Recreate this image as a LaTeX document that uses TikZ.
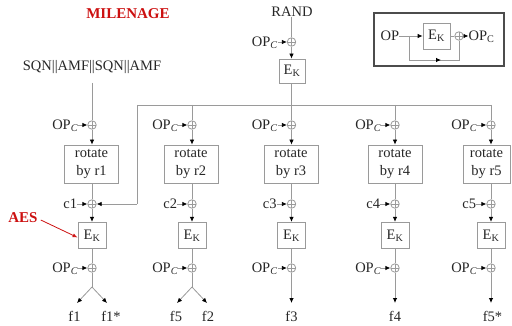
\documentclass[tikz,border=0pt]{standalone}
\usepackage{fontspec}
\setmainfont{Liberation Serif}
\usetikzlibrary{arrows.meta}
\definecolor{ln}{HTML}{9A9A9A}
\definecolor{redt}{HTML}{CC1010}
\definecolor{txt}{HTML}{262626}
\newcommand{\opc}{OP\textsubscript{\textit{C}}}
\newcommand{\opcup}{OP\textsubscript{C}}
\newcommand{\ek}{E\textsubscript{K}}
\tikzset{
  every node/.style={font=\fontsize{14.5}{16}\selectfont, text=txt},
  xor/.style={circle, draw=ln, line width=0.8pt, minimum size=8.5pt, inner sep=0pt,
    path picture={\draw[ln, line width=0.8pt] (path picture bounding box.north) -- (path picture bounding box.south)
      (path picture bounding box.west) -- (path picture bounding box.east);}},
  rotbox/.style={draw=ln, line width=0.8pt, minimum width=54pt, minimum height=38pt, inner sep=0pt,
    align=center, font=\fontsize{14.5}{18}\selectfont},
  ekbox/.style={draw=ln, line width=0.8pt, minimum width=28pt, minimum height=26.5pt, inner sep=0pt},
  wire/.style={draw=ln, line width=0.8pt},
  arr/.style={wire, -{Latex[length=5pt,width=4.5pt,black]}},
  lbl/.style={inner sep=0pt},
  title/.style={inner sep=0pt, font=\fontsize{15}{16}\selectfont\bfseries, text=redt},
}
\begin{document}
\begin{tikzpicture}[x=1pt,y=-1pt]
\useasboundingbox (0,0) rectangle (512,326);

% titles
\node[title] (mil) at (128,14) {MILENAGE};
\node[title] (aes) at (23,218) {AES};

% top: RAND branch
\node[lbl] (rand) at (292,12) {RAND};
\node[xor] (tx) at (291.5,42) {};
\node[lbl, anchor=base east] (tlo) at (278,46.7) {\opc};
\node[ekbox, minimum width=26pt, minimum height=24pt] (tek) at (292,71) {\ek};
\draw[wire] (rand.south -| tx) -- (tx.north);
\draw[arr] (tlo.east |- tx) -- (tx.west);
\draw[arr] (tx.south) -- (tek.north -| tx);
\coordinate (busc) at (291.5,105);
\draw[wire] (tek.south -| tx) -- (busc);

% SQN input
\node[lbl] (sqn) at (92,67) {SQN||AMF||SQN||AMF};
\coordinate (s1) at (92,83);

% bus
\coordinate (bl) at (137,105);
\coordinate (br) at (491,105);
\draw[wire] (bl) -- (br);

% columns
\foreach \i/\x/\outa/\outb in {1/92/f1/f1*,2/192/f5/f2,3/291.5/f3/,4/395/f4/,5/491/f5*/}{
  \node[xor] (xa\i) at (\x,125) {};
  \node[lbl, anchor=base east] (oa\i) at ([xshift=-9pt,yshift=-4.7pt]xa\i.west) {\opc};
  \draw[arr] (oa\i.east |- xa\i) -- (xa\i.west);
  \node[xor] (xb\i) at (\x,204) {};
  \node[lbl, anchor=base east] (cb\i) at ([xshift=-10pt,yshift=-4.7pt]xb\i.west) {c\i};
  \draw[arr] (cb\i.east |- xb\i) -- (xb\i.west);
  \node[ekbox] (ek\i) at (\x,235.5) {\ek};
  \node[xor] (xc\i) at (\x,268) {};
  \node[lbl, anchor=base east] (oc\i) at ([xshift=-9pt,yshift=-4.7pt]xc\i.west) {\opc};
  \draw[arr] (oc\i.east |- xc\i) -- (xc\i.west);
  \draw[arr] (xb\i.south) -- (ek\i.north);
  \draw[wire] (ek\i.south) -- (xc\i.north);
}
% rotate boxes
\node[rotbox] (rb1) at (91.5,164) {rotate\\by r1};
\node[rotbox] (rb2) at (191,164) {rotate\\by r2};
\node[rotbox] (rb3) at (291,164) {rotate\\by r3};
\node[rotbox] (rb4) at (395,164) {rotate\\by r4};
\node[rotbox, minimum width=47pt] (rb5) at (486.5,164) {rotate\\by r5};
\foreach \i in {1,...,5}{
  \draw[arr] (xa\i.south) -- (rb\i.north -| xa\i);
  \draw[wire] (rb\i.south -| xb\i) -- (xb\i.north);
}
% inputs to first xors
\draw[wire] (s1) -- (xa1.north);
\draw[wire] (br) -- (xa5.north);
\foreach \i in {2,3,4}{
  \draw[wire] (xa\i |- bl) -- (xa\i.north);
}
% feed to c1 xor
\coordinate (bd) at (137,204);
\draw[wire] (bl) -- (bd);
\draw[arr] (bd) -- (xb1.east);

% outputs
\foreach \i/\x in {1/92,2/192}{
  \coordinate (br\i) at (\x,287);
  \coordinate (ol\i) at (\x-15,303);
  \coordinate (or\i) at (\x+15,303);
  \draw[wire] (xc\i.south) -- (br\i);
  \draw[arr] (br\i) -- (ol\i);
  \draw[arr] (br\i) -- (or\i);
}
\node[lbl, anchor=base] (f1) at (74.5,321) {f1};
\node[lbl, anchor=base] (f1s) at (111,321) {f1*};
\node[lbl, anchor=base] (f5) at (176,321) {f5};
\node[lbl, anchor=base] (f2) at (208,321) {f2};
\foreach \i/\x/\t/\dx in {3/291.5/f3/0,4/395/f4/0,5/491/f5*/1.5}{
  \coordinate (oe\i) at (\x,303);
  \draw[arr] (xc\i.south) -- (oe\i);
  \node[lbl, anchor=base] (fo\i) at (\x+\dx,321) {\t};
}

% AES arrow
\draw[redt, line width=0.8pt, -{Latex[length=5pt,width=4pt]}] ([xshift=3pt,yshift=-2pt]aes.east) -- ([yshift=-2pt]ek1.west);

% inset
\node[draw=black!70, line width=2.5pt, minimum width=130pt, minimum height=53pt, inner sep=0pt] (frame) at (439,39.5) {};
\node[lbl] (iop) at (390,35.5) {OP};
\node[ekbox, minimum width=27pt, minimum height=26pt] (iek) at (436.5,36) {\ek};
\node[xor] (ix) at (459,36) {};
\node[lbl, anchor=west] (iopc) at (468.5,37) {\opcup};
\draw[arr] (iop.east |- iek) -- (iek.west);
\draw[wire] (iek.east) -- (ix.west);
\draw[arr] (ix.east) -- (iopc.west |- ix);
\coordinate (fb1) at (409,36);
\coordinate (fb2) at (409,60);
\coordinate (fbm) at (441,60);
\coordinate (fb3) at (459,60);
\draw[wire] (fb1) -- (fb2) -- (fb3) -- (ix.south);
\draw[arr] (fb2) -- (fbm);
\end{tikzpicture}
\end{document}
